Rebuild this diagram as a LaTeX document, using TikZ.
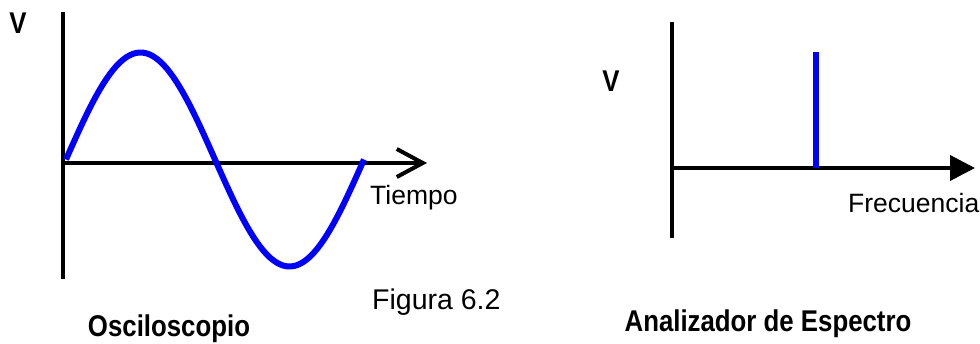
\documentclass[tikz,border=0pt]{standalone}
\usepackage{fontspec}
\setmainfont{Liberation Sans}
\newfontfamily\condfont{Liberation Sans}[FakeStretch=0.86]
\usepackage{tikz}
\usetikzlibrary{arrows.meta}
\definecolor{wave}{RGB}{0,0,255}

\tikzset{
  axis/.style={line width=4pt,black},
  signal/.style={line width=6pt,wave},
  boldlabel/.style={font=\condfont\bfseries\fontsize{30}{34}\selectfont,inner sep=0pt},
  plainlabel/.style={font=\fontsize{26.5}{30}\selectfont,inner sep=0pt}
}

\begin{document}
\begin{tikzpicture}[x=1pt,y=-1pt]
  \useasboundingbox (0,0) rectangle (980,344);

  % Osciloscopio: axes
  \coordinate (otop) at (63,12);
  \coordinate (obot) at (63,279);
  \coordinate (oorig) at (63,163);
  \coordinate (oend) at (427,163);
  \draw[axis] (otop) -- (obot);
  \draw[axis,-{Straight Barb[length=26pt,width=28pt]}] (oorig) -- (oend);

  % Sine wave
  \draw[signal] plot[domain=0:360,samples=90]
    ({66+(\x/360)*298},{159.5-107*sin(\x)});

  % Labels, left
  \node[boldlabel] (ov) at (18,23) {V};
  \node[plainlabel,anchor=base west] (tiempo) at (370,205) {Tiempo};
  \node[plainlabel,font=\fontsize{28.5}{32}\selectfont,anchor=base west] (figura) at (372,310) {Figura 6.2};
  \node[boldlabel,anchor=base] (osc) at (169,337) {Osciloscopio};

  % Analizador de Espectro: axes
  \coordinate (atop) at (672,22);
  \coordinate (abot) at (672,238);
  \coordinate (aorig) at (672,168);
  \coordinate (aend) at (975,168);
  \draw[axis] (atop) -- (abot);
  \draw[axis,-{Triangle[length=25pt,width=25pt]}] (aorig) -- (aend);

  % Spectral line
  \coordinate (peak) at (816,52);
  \coordinate (foot) at (816,168);
  \draw[signal] (peak) -- (foot);

  % Labels, right
  \node[boldlabel] (av) at (611,81) {V};
  \node[plainlabel,anchor=base west] (frec) at (848,213) {Frecuencia};
  \node[boldlabel,anchor=base] (ana) at (768,332) {Analizador de Espectro};
\end{tikzpicture}
\end{document}
